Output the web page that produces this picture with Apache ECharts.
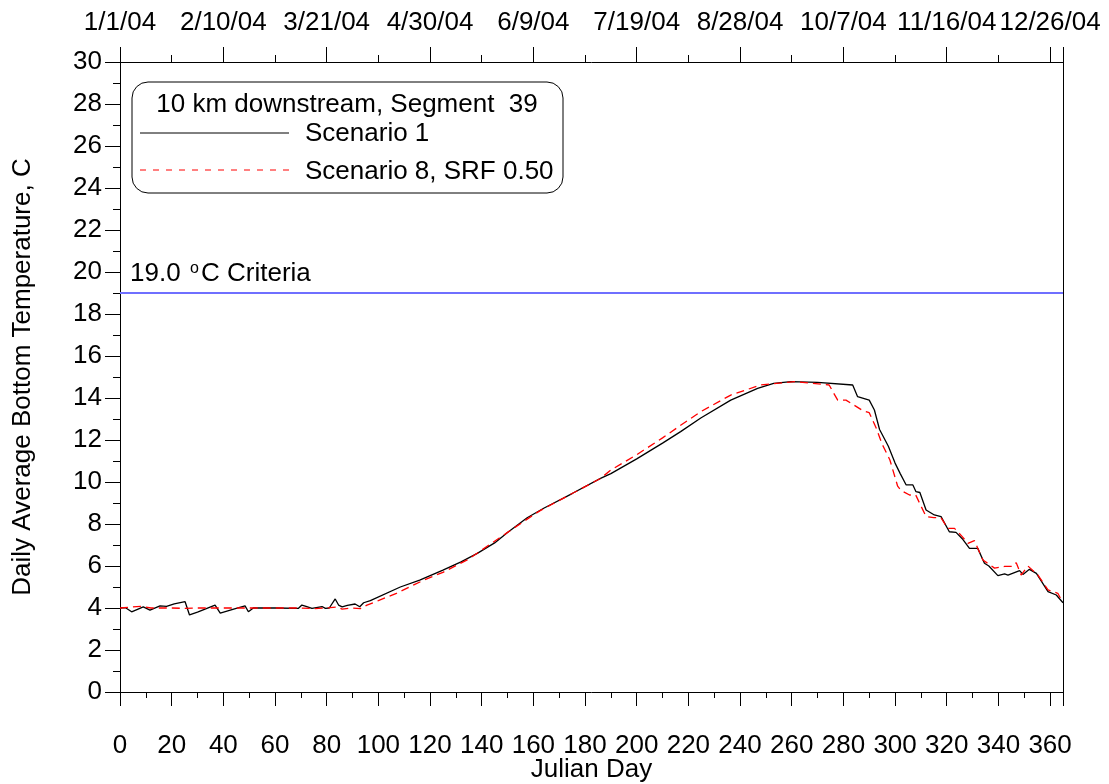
<!DOCTYPE html>
<html>
<head>
<meta charset="utf-8">
<script src="https://cdn.jsdelivr.net/npm/echarts@6/dist/echarts.min.js"></script>
<style>
html,body{margin:0;padding:0;background:#fff;}
#chart{width:1109px;height:784px;}
</style>
</head>
<body>
<div id="chart"></div>
<script>
// ---- data ----
const topDateLabels = ['1/1/04','2/10/04','3/21/04','4/30/04','6/9/04','7/19/04','8/28/04','10/7/04','11/16/04','12/26/04'];
const criteria = 19.0;
const seriesNames = ['Scenario 1', 'Scenario 8, SRF 0.50'];
const legendTitle = '10 km downstream, Segment  39';

const s1Days = [0,2,4.5,7,9,11.6,15.5,18,21,25.2,26.9,30,36.8,38.8,44,48.4,49.7,51.6,60,69,70.4,72,74.3,78.2,79.5,81,83.3,84.6,86,88,91,92.8,94.3,96.9,108.5,116,125,132,138.3,145,150,157.6,164,175,186,190,200,210,217,224.8,236.4,246.8,253,259.7,270,283.6,285.5,290,292,294,297.4,300,302,304.3,306.9,308.1,309.6,312,315.2,317.8,321,323.6,326,328.8,332,334.6,336.3,339.8,342.4,343.7,348.2,349.5,352,354.7,359.2,362.4,365];
const s1Temps = [4.0,4.02,3.82,3.95,4.05,3.9,4.1,4.08,4.2,4.3,3.67,3.8,4.14,3.76,3.95,4.1,3.82,4.0,4.0,3.98,4.14,4.08,3.98,4.07,3.98,4.0,4.43,4.14,4.05,4.12,4.19,4.06,4.25,4.35,5.0,5.33,5.8,6.2,6.6,7.1,7.6,8.3,8.75,9.45,10.17,10.4,11.1,11.85,12.4,13.05,13.9,14.46,14.7,14.78,14.74,14.62,14.06,13.9,13.43,12.5,11.7,10.9,10.4,9.86,9.86,9.54,9.5,8.67,8.43,8.35,7.63,7.6,7.3,6.84,6.84,6.13,6.0,5.54,5.62,5.57,5.78,5.6,5.84,5.65,4.78,4.62,4.25];

const s8Days = [0,5,8,12,20,25,30,40,50,60,70,75,80,84,86,90,93,95.6,100,107,113.7,117.6,125,134.4,140,150,160,162.8,175,186,190,200,210,217,224.8,236.4,248,261,274.5,275.9,277.8,281,287.5,290,292.6,295,298,301,302.3,305.6,308,312,315,317.8,320.4,323,326,328.2,330.7,334,338.5,342.4,345.6,346.9,348.8,351.4,355.3,359.2,363,364.3,365];
const s8Temps = [4.0,4.05,4.08,4.0,4.0,3.98,4.0,4.0,4.0,4.0,4.0,3.97,4.0,4.05,3.95,4.0,3.97,4.14,4.35,4.7,5.1,5.33,5.7,6.29,6.76,7.6,8.43,8.65,9.45,10.17,10.57,11.3,12.1,12.7,13.35,14.14,14.62,14.78,14.62,14.3,13.9,13.9,13.4,13.3,12.6,11.8,11.05,9.8,9.6,9.38,9.38,8.35,8.3,8.3,7.79,7.79,7.4,7.08,7.21,6.29,5.9,5.98,5.98,6.16,5.57,6.0,5.57,4.86,4.7,4.4,4.35];

// ---- chart ----
const FONT = 'Liberation Sans, Arial, sans-serif';
const FS = 26;
const pair = (xs, ys) => xs.map((x, i) => [x, ys[i]]);
const chart = echarts.init(document.getElementById('chart'), null, {renderer: 'canvas'});
const black = '#000';
const axisTextStyle = {color: black, fontFamily: FONT, fontSize: FS};

chart.setOption({
  animation: false,
  backgroundColor: '#fff',
  grid: {left: 120, right: 46, top: 62, bottom: 92, containLabel: false, outerBoundsMode: 'none'},
  xAxis: [
    {
      type: 'value', position: 'bottom', min: 0, max: 365, interval: 20,
      name: 'Julian Day', nameLocation: 'middle', nameGap: 65, nameMoveOverlap: false,
      nameTextStyle: {color: black, fontFamily: FONT, fontSize: FS},
      axisLine: {show: true, onZero: false, lineStyle: {color: black, width: 1}},
      axisTick: {show: true, inside: false, length: 14, lineStyle: {color: black}},
      minorTick: {show: true, splitNumber: 2, length: 6, lineStyle: {color: black}},
      axisLabel: Object.assign({margin: 41, showMaxLabel: false,
        formatter: v => (v % 20 === 0 ? String(v) : '')}, axisTextStyle),
      splitLine: {show: false}, minorSplitLine: {show: false}
    },
    {
      type: 'value', position: 'top', min: 0, max: 365, interval: 40,
      axisLine: {show: true, onZero: false, lineStyle: {color: black, width: 1}},
      axisTick: {show: true, inside: false, length: 15, lineStyle: {color: black}},
      minorTick: {show: true, splitNumber: 2, length: 7, lineStyle: {color: black}},
      axisLabel: Object.assign({margin: 26, showMaxLabel: false,
        formatter: v => (v % 40 === 0 && topDateLabels[v / 40]) ? topDateLabels[v / 40] : ''}, axisTextStyle),
      splitLine: {show: false}
    }
  ],
  yAxis: [
    {
      type: 'value', position: 'left', min: 0, max: 30, interval: 2,
      name: 'Daily Average Bottom Temperature, C', nameLocation: 'middle', nameGap: 84,
      nameRotate: 90, nameMoveOverlap: false,
      nameTextStyle: {color: black, fontFamily: FONT, fontSize: FS},
      axisLine: {show: true, onZero: false, lineStyle: {color: black, width: 1}},
      axisTick: {show: true, inside: false, length: 15, lineStyle: {color: black}},
      minorTick: {show: true, splitNumber: 2, length: 7, lineStyle: {color: black}},
      axisLabel: Object.assign({margin: 18}, axisTextStyle),
      splitLine: {show: false}
    },
    {
      type: 'value', position: 'right', min: 0, max: 30, interval: 2,
      axisLine: {show: true, onZero: false, lineStyle: {color: black, width: 1}},
      axisTick: {show: false}, axisLabel: {show: false}, splitLine: {show: false}
    }
  ],
  series: [
    {
      name: seriesNames[0], type: 'line', xAxisIndex: 0, yAxisIndex: 0,
      data: pair(s1Days, s1Temps), showSymbol: false, symbol: 'none',
      lineStyle: {color: black, width: 1.3}, z: 3,
      markLine: {
        silent: true, symbol: 'none', label: {show: false},
        lineStyle: {color: '#6f6fff', width: 2, type: 'solid'},
        data: [{yAxis: criteria}]
      }
    },
    {
      name: seriesNames[1], type: 'line', xAxisIndex: 0, yAxisIndex: 0,
      data: pair(s8Days, s8Temps), showSymbol: false, symbol: 'none',
      lineStyle: {color: '#ff0000', width: 1.3, type: [8, 5]}, z: 4
    }
  ],
  graphic: [
    {type: 'rect', shape: {x: 132, y: 82, width: 431, height: 111, r: 16},
     style: {fill: 'none', stroke: black, lineWidth: 1}, z: 10},
    {type: 'text', x: 347, y: 105, z: 11,
     style: {text: legendTitle, font: FS + 'px ' + FONT, fill: black, textAlign: 'center', textVerticalAlign: 'middle'}},
    {type: 'line', shape: {x1: 140, y1: 133, x2: 289, y2: 133}, style: {stroke: black, lineWidth: 1}, z: 11},
    {type: 'text', x: 305, y: 134, z: 11,
     style: {text: seriesNames[0], font: FS + 'px ' + FONT, fill: black, textAlign: 'left', textVerticalAlign: 'middle'}},
    {type: 'line', shape: {x1: 140, y1: 170, x2: 289, y2: 170}, style: {stroke: '#ff0000', lineWidth: 1, lineDash: [6, 7]}, z: 11},
    {type: 'text', x: 305, y: 172, z: 11,
     style: {text: seriesNames[1], font: FS + 'px ' + FONT, fill: black, textAlign: 'left', textVerticalAlign: 'middle'}},
    {type: 'text', x: 130, y: 274, z: 11,
     style: {text: criteria.toFixed(1), font: FS + 'px ' + FONT, fill: black, textAlign: 'left', textVerticalAlign: 'middle'}},
    {type: 'text', x: 190, y: 269, z: 11,
     style: {text: 'o', font: '16px ' + FONT, fill: black, textAlign: 'left', textVerticalAlign: 'middle'}},
    {type: 'text', x: 201, y: 274, z: 11,
     style: {text: 'C Criteria', font: FS + 'px ' + FONT, fill: black, textAlign: 'left', textVerticalAlign: 'middle'}}
  ]
});
</script>
</body>
</html>
